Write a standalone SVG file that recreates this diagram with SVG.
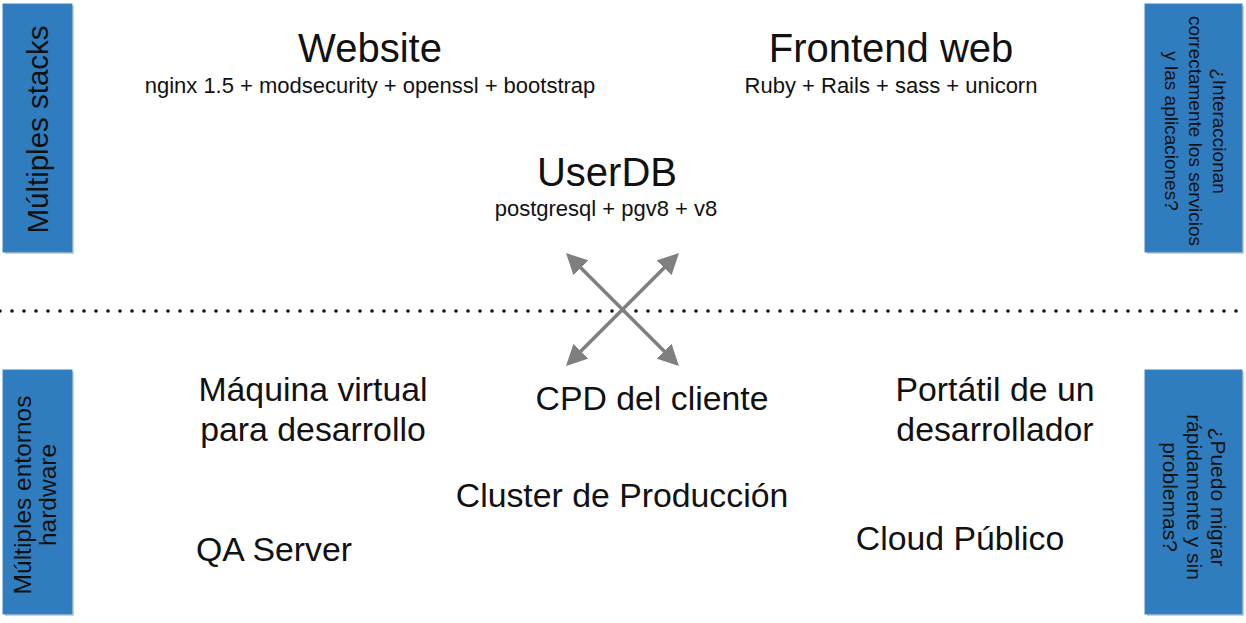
<svg xmlns="http://www.w3.org/2000/svg" width="1246" height="623" viewBox="0 0 1246 623">
<style>
.t{font-family:"Liberation Sans",Arial,sans-serif;fill:#111;text-anchor:middle}
.big{font-size:40px}
.sub{font-size:22px}
.mid{font-size:33.8px}
.box{fill:#2f7dbf;stroke:#3a86c6;stroke-width:1}
.shadow{fill:#9aa4ad;opacity:0.5}
.conn{stroke:#7f7f7f;stroke-width:3.5;fill:none;marker-start:url(#ah);marker-end:url(#ah)}
</style>
<defs>
<marker id="ah" viewBox="0 0 10 10" refX="8" refY="5" markerWidth="6" markerHeight="6" orient="auto-start-reverse" markerUnits="strokeWidth">
<path d="M0,0 L10,5 L0,10 z" fill="#7f7f7f"/>
</marker>
</defs>
<rect width="1246" height="623" fill="#fff"/>
<line x1="0" y1="311" x2="1246" y2="311" stroke="#111" stroke-width="3.6" stroke-linecap="round" stroke-dasharray="0 12"/>
<g id="box-stacks">
<rect class="shadow" x="5" y="6" width="69" height="248"/>
<rect class="box" x="3" y="4" width="69" height="248"/>
<text class="t" font-size="29.5" transform="translate(47.5,129.5) rotate(-90)">Múltiples stacks</text>
</g>
<g id="box-interaccion">
<rect class="shadow" x="1147" y="6" width="97" height="248"/>
<rect class="box" x="1145" y="4" width="97" height="248"/>
<text class="t" font-size="19" transform="translate(1193.5,131) rotate(90)"><tspan x="0" y="-19">¿Interaccionan</tspan><tspan x="0" y="5">correctamente los servicios</tspan><tspan x="0" y="29">y las aplicaciones?</tspan></text>
</g>
<g id="box-hardware">
<rect class="shadow" x="5" y="372" width="69" height="244"/>
<rect class="box" x="3" y="370" width="69" height="244"/>
<text class="t" font-size="24.5" transform="translate(37,495) rotate(-90)"><tspan x="0" y="-6">Múltiples entornos</tspan><tspan x="0" y="19">hardware</tspan></text>
</g>
<g id="box-migrar">
<rect class="shadow" x="1147" y="372" width="97" height="244"/>
<rect class="box" x="1145" y="370" width="97" height="244"/>
<text class="t" font-size="21" transform="translate(1193.5,497) rotate(90)"><tspan x="0" y="-17">¿Puedo migrar</tspan><tspan x="0" y="7">rápidamente y sin</tspan><tspan x="0" y="31">problemas?</tspan></text>
</g>
<g id="connectors">
<line class="conn" x1="569" y1="256" x2="676" y2="363"/>
<line class="conn" x1="676" y1="256" x2="569" y2="363"/>
</g>
<g id="website">
<text class="t big" x="370" y="62">Website</text>
<text class="t sub" x="370" y="93">nginx 1.5 + modsecurity + openssl + bootstrap</text>
</g>
<g id="frontend">
<text class="t big" x="891" y="62">Frontend web</text>
<text class="t sub" x="891" y="93">Ruby + Rails + sass + unicorn</text>
</g>
<g id="userdb">
<text class="t big" x="607" y="186">UserDB</text>
<text class="t sub" x="606" y="216">postgresql + pgv8 + v8</text>
</g>
<g id="maquina">
<text class="t mid" x="313" y="401">Máquina virtual</text>
<text class="t mid" x="313" y="441">para desarrollo</text>
</g>
<g id="cpd">
<text class="t mid" x="652" y="410">CPD del cliente</text>
</g>
<g id="portatil">
<text class="t mid" x="995" y="401">Portátil de un</text>
<text class="t mid" x="995" y="441">desarrollador</text>
</g>
<g id="cluster">
<text class="t mid" x="622" y="507">Cluster de Producción</text>
</g>
<g id="qa">
<text class="t mid" x="274" y="561">QA Server</text>
</g>
<g id="cloud">
<text class="t mid" x="960" y="550">Cloud Público</text>
</g>
</svg>
